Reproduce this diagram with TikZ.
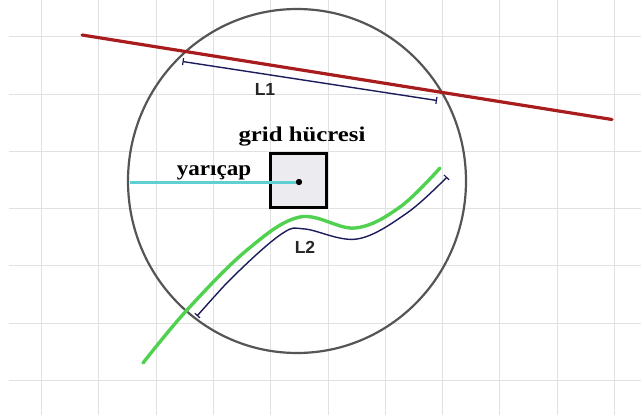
\documentclass[tikz,border=0pt]{standalone}
\usepackage{fontspec}
\setmainfont{Liberation Serif}
\newfontfamily\labsans{Liberation Sans}
\usetikzlibrary{arrows.meta}
\definecolor{gridc}{RGB}{225,225,225}
\definecolor{circc}{RGB}{85,85,85}
\definecolor{redc}{RGB}{168,28,30}
\definecolor{cyanc}{RGB}{95,208,210}
\definecolor{greenc}{RGB}{80,210,80}
\definecolor{navyc}{RGB}{28,28,92}
\definecolor{cellc}{RGB}{236,236,240}
\tikzset{
  gridline/.style={gridc, line width=1pt},
  circline/.style={circc, line width=2.2pt},
  redline/.style={redc, line width=3.2pt, line cap=round},
  dimline/.style={navyc, line width=1.4pt, {Bar[width=7pt,line width=1.2pt]}-{Bar[width=7pt,line width=1.2pt]}},
  cyanline/.style={cyanc, line width=3pt},
  greenline/.style={greenc, line width=3.4pt, line cap=round},
  cellbox/.style={draw=black, fill=cellc, line width=2.2pt, minimum width=56pt, minimum height=54pt, inner sep=0pt},
  centerdot/.style={circle, fill=black, inner sep=0pt, minimum size=6pt},
  seriflabel/.style={font=\fontsize{21}{24}\selectfont\bfseries, inner sep=0pt, anchor=base},
  sanslabel/.style={font=\labsans\fontsize{17.5}{20}\selectfont\bfseries, text=black!85, inner sep=0pt}
}
\begin{document}
\begin{tikzpicture}[x=1pt,y=-1pt]
\useasboundingbox (0,0) rectangle (641,418);
\fill[white] (0,0) rectangle (641,418);
% grid
\foreach \i in {0,...,10} \draw[gridline] ({41.5+57.3*\i},0) -- ({41.5+57.3*\i},415);
\foreach \j in {0,...,6} \draw[gridline] (9,{36.7+57.3*\j}) -- (641,{36.7+57.3*\j});
% circle
\draw[circline] (297,181) ellipse [x radius=169pt, y radius=172pt];
% red line
\coordinate (r1) at (82,35);
\coordinate (r2) at (612,119.5);
\draw[redline] (r1) -- (r2);
% L1 dimension
\coordinate (l1a) at (182.5,61.5);
\coordinate (l1b) at (437,100.5);
\draw[dimline] (l1a) -- (l1b);
\node[sanslabel] (L1) at (265,89) {L1};
% grid cell
\node[cellbox] (cell) at (298.5,180.5) {};
\coordinate (cl) at (130,182);
\node[centerdot] (ctr) at (299,182) {};
\draw[cyanline] (cl) -- (ctr);
\node[centerdot] at (299,182) {};
\node[seriflabel] (gh) at (302,141.5) {\scalebox{1.18}[1]{grid hücresi}};
\node[seriflabel] (yc) at (214,175) {\scalebox{1.1}[1]{yarıçap}};
% green curve
\draw[greenline] plot[smooth, tension=0.6] coordinates {(143,363) (187,310) (247,250) (300,217) (355,228) (400,207) (440,168)};
% L2 curve
\draw[dimline] plot[smooth, tension=0.6] coordinates {(197,316) (240,270) (283,233) (305,229) (357,239) (407,213) (447,177)};
\node[sanslabel] (L2) at (305,247) {L2};
\end{tikzpicture}
\end{document}
